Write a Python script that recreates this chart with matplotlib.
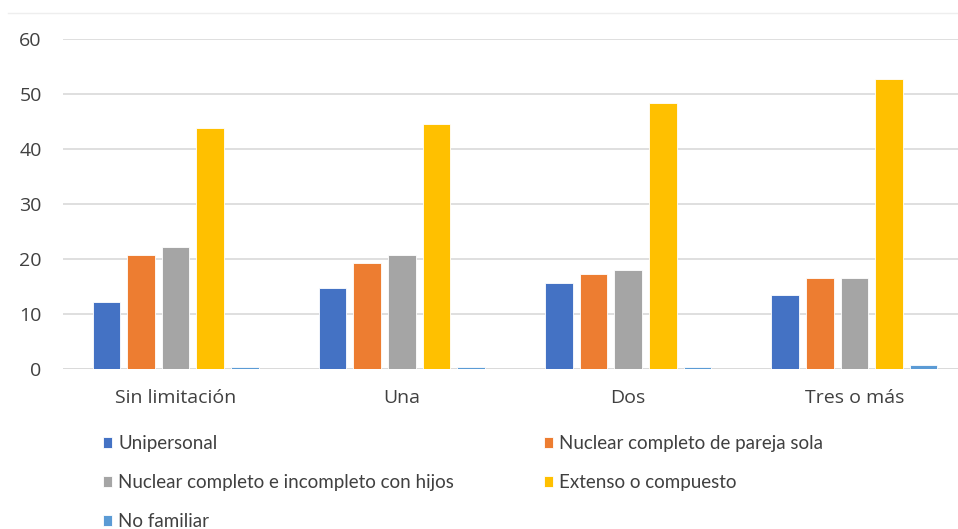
import numpy as np
import matplotlib
matplotlib.use("Agg")
import matplotlib.pyplot as plt
from matplotlib.lines import Line2D

# Datos
categorias = ["Sin limitación", "Una", "Dos", "Tres o más"]
series = [
    "Unipersonal",
    "Nuclear completo de pareja sola",
    "Nuclear completo e incompleto con hijos",
    "Extenso o compuesto",
    "No familiar",
]
unipersonal = [12.2, 14.7, 15.5, 13.3]
nuclear_pareja = [20.6, 19.3, 17.2, 16.4]
nuclear_hijos = [22.2, 20.6, 18.0, 16.4]
extenso = [43.8, 44.5, 48.4, 52.7]
no_familiar = [0.25, 0.25, 0.3, 0.6]
valores = [unipersonal, nuclear_pareja, nuclear_hijos, extenso, no_familiar]
colores = ["#4472C4", "#ED7D31", "#A5A5A5", "#FFC000", "#5B9BD5"]

plt.rcParams["font.family"] = ["Open Sans", "DejaVu Sans"]

fig = plt.figure(figsize=(9.58, 5.29), dpi=100)
ax = fig.add_axes([62.5 / 958, 1 - 368.5 / 529, 905 / 958, 329.5 / 529])

x = np.arange(len(categorias))
paso = 0.153
ancho = 0.122
for i, (vals, col) in enumerate(zip(valores, colores)):
    ax.bar(x + (i - 2) * paso, vals, ancho, color=col, edgecolor="white",
           linewidth=0.6, zorder=3, label=series[i])

ax.set_xlim(-0.5, 3.5)
ax.set_ylim(0, 60)
ax.set_yticks(range(0, 61, 10))
ax.set_xticks(x)
ax.set_xticklabels(categorias)
ax.grid(axis="y", color="#d9d9d9", linewidth=1.2, zorder=0)
for s in ax.spines.values():
    s.set_visible(False)
ax.tick_params(length=0, colors="#404040", labelsize=14)
ax.tick_params(axis="y", pad=15)
ax.tick_params(axis="x", pad=15)
ax.axhline(0, color="#d9d9d9", linewidth=1.2, zorder=2)

# línea fina del borde superior
fig.add_artist(Line2D([8 / 958, 1], [1 - 13 / 529, 1 - 13 / 529],
                      color="#eeeeee", linewidth=1))

# Leyenda (orden por columnas para que se lea por filas)
handles, labels = ax.get_legend_handles_labels()
orden = [0, 2, 4, 1, 3]
leg = fig.legend([handles[k] for k in orden], [labels[k] for k in orden],
                 ncol=2, loc="upper left", bbox_to_anchor=(103 / 958, 1 - 435 / 529),
                 frameon=False, handlelength=0.5, handleheight=0.5,
                 handletextpad=0.3, labelspacing=1.17, columnspacing=4.8,
                 labelcolor="#404040", borderpad=0, borderaxespad=0,
                 prop={"family": ["Lato", "DejaVu Sans"], "size": 13.5})

fig.savefig("out.png", dpi=100)
